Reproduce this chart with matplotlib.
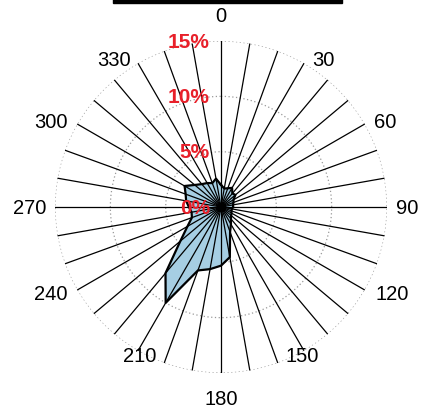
import numpy as np
import matplotlib
matplotlib.use("Agg")
import matplotlib.pyplot as plt
import matplotlib.transforms as mtransforms
from matplotlib.patches import Rectangle

# direction (deg, compass) and frequency (%)
directions = list(range(0, 360, 10))
freq = [2.0, 1.7, 1.8, 2.0, 1.6, 1.7, 1.3, 1.2, 1.1, 1.1,
        1.0, 1.0, 1.1, 1.2, 1.4, 1.8, 2.4, 4.6, 5.3, 5.7,
        6.1, 10.0, 7.8, 4.8, 3.5, 2.8, 2.7, 2.9, 3.2, 3.4,
        3.8, 3.1, 2.7, 2.5, 2.3, 2.6]
ring_values = [5, 10, 15]
ring_labels = ["0%", "5%", "10%", "15%"]
label_angles = list(range(0, 360, 30))
angle_labels = [str(a) for a in label_angles]

plt.rcParams['font.family'] = ['Liberation Sans', 'DejaVu Sans']

fig = plt.figure(figsize=(4.28, 4.14), dpi=100)
ax = fig.add_axes([0.1285, 0.0966, 0.7757, 0.8019], projection='polar')
ax.set_theta_zero_location('N')
ax.set_theta_direction(-1)
ax.set_ylim(0, 15)
ax.grid(False)
ax.spines['polar'].set_visible(False)
ax.set_xticks([])
ax.set_yticks([])
ax.patch.set_visible(False)

# filled rose
th = np.deg2rad(directions + [directions[0]])
rr = freq + [freq[0]]
ax.fill(th, rr, color='#a6cee3', zorder=2)
ax.plot(th, rr, color='black', lw=1.6, zorder=4)

# spokes
for d in directions:
    t = np.deg2rad(d)
    ax.plot([t, t], [0, 15], color='black', lw=0.9, zorder=3)

# dotted rings
tt = np.linspace(0, 2 * np.pi, 400)
for r in ring_values:
    ax.plot(tt, np.full_like(tt, r), color='#999999', lw=0.9,
            linestyle=(0, (1, 2)), zorder=1)

ax.plot([0], [0], 'o', color='black', ms=6, zorder=5)

# angle labels: offsets (px from centre, y up) of each label's centre
label_offsets = {0: (0, 192), 30: (102, 148), 60: (164, 86), 90: (186, 0),
                 120: (171, -86), 150: (81, -148), 180: (0, -191),
                 210: (-81, -148), 240: (-170, -86), 270: (-191, 0),
                 300: (-170, 86), 330: (-107, 148)}
px_per_unit = 166 / 15
for a, lab in zip(label_angles, angle_labels):
    dx, dy = label_offsets[a]
    t = np.arctan2(dx, dy)
    r = np.hypot(dx, dy) / px_per_unit
    ax.text(t, r, lab, ha='center', va='center', fontsize=14.5, clip_on=False)

# ring labels
off = mtransforms.offset_copy(ax.transData, fig=fig, x=-11, y=0, units='dots')
for r, lab in zip([0] + ring_values, ring_labels):
    ax.text(0, r, lab, transform=off, ha='right', va='center',
            fontsize=15, fontweight='bold', color='#e8202a', zorder=6)

# black bar at top
fig.patches.append(Rectangle((113 / 428, 1 - 3.5 / 414), 229 / 428, 3.5 / 414,
                             transform=fig.transFigure, color='black'))

fig.savefig('out.png', dpi=100)
